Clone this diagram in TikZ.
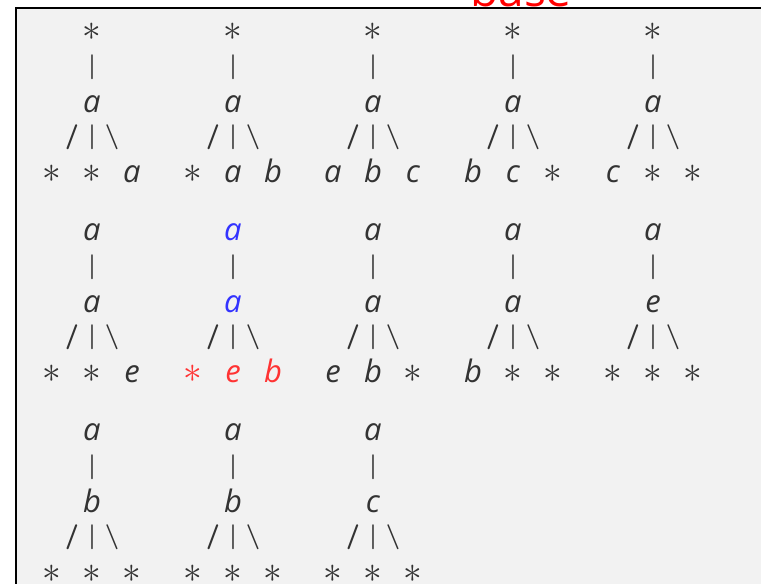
\documentclass[tikz,border=0pt]{standalone}
\usepackage{fontspec}
\setmainfont{Open Sans}
\definecolor{ink}{HTML}{333333}
\definecolor{panel}{HTML}{F2F2F2}
\definecolor{blu}{HTML}{3333FF}
\definecolor{rd}{HTML}{FF3333}
\definecolor{basered}{HTML}{FF0000}
\newcommand{\ita}[1]{\textit{#1}}
\newcommand{\sta}{{\fontsize{20}{24}\selectfont\scalebox{1.8}{$\ast$}}}
\tikzset{
  glyph/.style={inner sep=0pt, outer sep=0pt, anchor=base, text=ink, font=\fontsize{31}{36}\selectfont},
  edgeglyph/.style={inner sep=0pt, outer sep=0pt, anchor=center, text=ink, font=\fontsize{25}{30}\sffamily\bfseries},
  framebox/.style={draw=black, fill=panel, line width=2pt},
  titletext/.style={inner sep=0pt, anchor=base, text=basered, font=\fontsize{46}{50}\selectfont}
}
% #1 name, #2 cx, #3 row-0 baseline, #4 top, #5 middle, #6 #7 #8 leaves
\newcommand{\asciitree}[8]{%
  \node[glyph] (#1t) at (#2,#3) {#4};
  \node[edgeglyph] (#1v) at (#2,#3+27) {|};
  \node[glyph] (#1m) at (#2,#3+72) {#5};
  \node[edgeglyph] (#1sl) at (#2-20,#3+97.5) {/};
  \node[edgeglyph] (#1sc) at (#2,#3+97.5) {|};
  \node[edgeglyph] (#1sr) at (#2+20,#3+97.5) {\textbackslash};
  \node[glyph] (#1a) at (#2-40,#3+142) {#6};
  \node[glyph] (#1b) at (#2,#3+142) {#7};
  \node[glyph] (#1c) at (#2+40,#3+142) {#8};
}
\begin{document}
\begin{tikzpicture}[x=1pt,y=-1pt]
\useasboundingbox (0,0) rectangle (761,584);
\clip (0,0) rectangle (761,584);
\fill[white] (0,0) rectangle (761,584);
\draw[framebox] (16,8) rectangle (800,640);
\node[titletext] (title) at (521,6.5) {base};
% group 1
\asciitree{ta}{92}{40}{\sta}{\ita{a}}{\sta}{\sta}{\ita{a}}
\asciitree{tb}{233}{40}{\sta}{\ita{a}}{\sta}{\ita{a}}{\ita{b}}
\asciitree{tc}{373}{40}{\sta}{\ita{a}}{\ita{a}}{\ita{b}}{\ita{c}}
\asciitree{td}{513}{40}{\sta}{\ita{a}}{\ita{b}}{\ita{c}}{\sta}
\asciitree{te}{653}{40}{\sta}{\ita{a}}{\ita{c}}{\sta}{\sta}
% group 2
\asciitree{tf}{92}{240}{\ita{a}}{\ita{a}}{\sta}{\sta}{\ita{e}}
\asciitree{tg}{233}{240}{\textcolor{blu}{\ita{a}}}{\textcolor{blu}{\ita{a}}}{\textcolor{rd}{\sta}}{\textcolor{rd}{\ita{e}}}{\textcolor{rd}{\ita{b}}}
\asciitree{th}{373}{240}{\ita{a}}{\ita{a}}{\ita{e}}{\ita{b}}{\sta}
\asciitree{ti}{513}{240}{\ita{a}}{\ita{a}}{\ita{b}}{\sta}{\sta}
\asciitree{tj}{653}{240}{\ita{a}}{\ita{e}}{\sta}{\sta}{\sta}
% group 3
\asciitree{tk}{92}{440}{\ita{a}}{\ita{b}}{\sta}{\sta}{\sta}
\asciitree{tl}{233}{440}{\ita{a}}{\ita{b}}{\sta}{\sta}{\sta}
\asciitree{tm}{373}{440}{\ita{a}}{\ita{c}}{\sta}{\sta}{\sta}
\end{tikzpicture}
\end{document}
